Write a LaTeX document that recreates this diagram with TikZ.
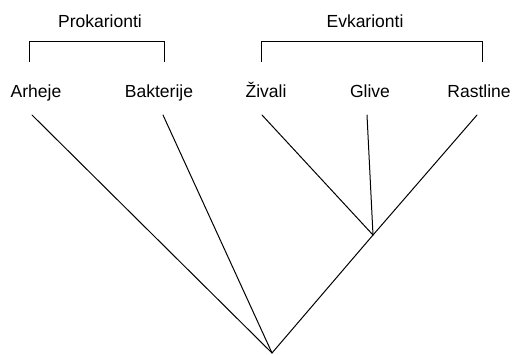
\documentclass[tikz,border=0pt]{standalone}
\usepackage{fontspec}
\setmainfont{Liberation Sans}
\usetikzlibrary{positioning, calc}
\tikzset{
  taxon/.style={anchor=base, inner sep=0pt, font=\fontsize{10.5}{12}\selectfont},
  group/.style={taxon},
  branch/.style={line width=0.6pt, line cap=round},
  brace/.style={line width=0.6pt}
}
\begin{document}
\begin{tikzpicture}[x=0.6pt, y=-0.6pt]
\useasboundingbox (0,0) rectangle (513,354);
% group labels and brackets
\node[group] (prok) at (100,27) {Prokarionti};
\node[group] (evk) at (365,27) {Evkarionti};
\draw[brace] (29,62) -- (29,41) -- (164,41) -- (164,62);
\draw[brace] (261,62) -- (261,41) -- (482,41) -- (482,62);
% leaves
\node[taxon] (arheje) at (36,97) {Arheje};
\node[taxon] (bakterije) at (159,97) {Bakterije};
\node[taxon] (zivali) at (266,97) {Živali};
\node[taxon] (glive) at (370,97) {Glive};
\node[taxon] (rastline) at (479,97) {Rastline};
% tree
\coordinate (root) at (272,353);
\coordinate (euk) at (373,235);
\coordinate (arheje-tip) at (32,115);
\coordinate (bakterije-tip) at (163,115);
\coordinate (zivali-tip) at (262,115);
\coordinate (glive-tip) at (367,115);
\coordinate (rastline-tip) at (477,115);
\draw[branch] (arheje-tip) -- (root);
\draw[branch] (bakterije-tip) -- (root);
\draw[branch] (euk) -- (root);
\draw[branch] (zivali-tip) -- (euk);
\draw[branch] (glive-tip) -- (euk);
\draw[branch] (rastline-tip) -- (euk);
\end{tikzpicture}
\end{document}
